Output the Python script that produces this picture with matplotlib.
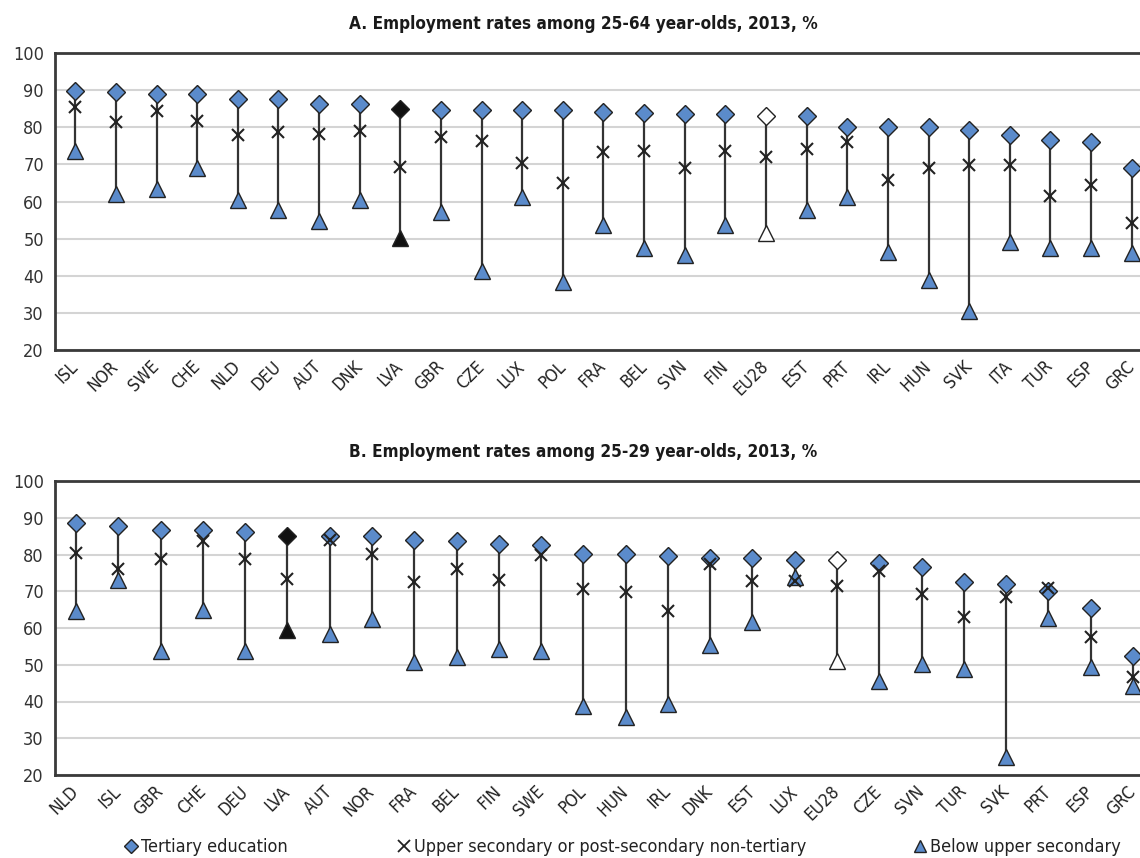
import matplotlib.pyplot as plt
from matplotlib.lines import Line2D

# Panel A: 25-64 year-olds
countries_a = ['ISL', 'NOR', 'SWE', 'CHE', 'NLD', 'DEU', 'AUT', 'DNK', 'LVA', 'GBR', 'CZE', 'LUX', 'POL',
               'FRA', 'BEL', 'SVN', 'FIN', 'EU28', 'EST', 'PRT', 'IRL', 'HUN', 'SVK', 'ITA', 'TUR', 'ESP', 'GRC']
tertiary_a = [89.8, 89.5, 89.0, 89.0, 87.7, 87.6, 86.3, 86.2, 84.9, 84.7, 84.7, 84.7, 84.7,
              84.1, 83.8, 83.6, 83.6, 83.1, 82.9, 80.0, 80.0, 80.0, 79.3, 77.8, 76.7, 76.1, 68.9]
upper_a = [85.5, 81.5, 84.3, 81.8, 78.0, 78.6, 78.2, 78.9, 69.4, 77.5, 76.2, 70.3, 64.9,
           73.2, 73.5, 69.0, 73.5, 72.1, 74.1, 76.0, 65.8, 69.0, 69.7, 69.7, 61.4, 64.4, 54.1]
below_a = [73.6, 61.9, 63.3, 69.0, 60.4, 57.6, 54.8, 60.4, 50.3, 57.1, 41.4, 61.3, 38.2,
           53.7, 47.6, 45.6, 53.7, 51.5, 57.8, 61.3, 46.5, 38.9, 30.5, 49.2, 47.5, 47.5, 46.0]

# Panel B: 25-29 year-olds
countries_b = ['NLD', 'ISL', 'GBR', 'CHE', 'DEU', 'LVA', 'AUT', 'NOR', 'FRA', 'BEL', 'FIN', 'SWE', 'POL',
               'HUN', 'IRL', 'DNK', 'EST', 'LUX', 'EU28', 'CZE', 'SVN', 'TUR', 'SVK', 'PRT', 'ESP', 'GRC']
tertiary_b = [88.7, 87.8, 86.8, 86.6, 86.2, 84.9, 84.9, 84.9, 83.9, 83.7, 82.8, 82.5, 80.1,
              80.1, 79.6, 79.1, 79.0, 78.5, 78.5, 77.6, 76.6, 72.5, 71.9, 70.2, 65.5, 52.3]
upper_b = [80.5, 76.0, 78.7, 83.7, 78.9, 73.3, 83.9, 80.2, 72.5, 76.0, 73.0, 79.8, 70.5,
           69.8, 64.7, 77.3, 72.8, 72.8, 71.4, 75.5, 69.2, 63.0, 68.3, 70.9, 57.6, 46.7]
below_b = [64.5, 73.0, 53.8, 64.8, 53.8, 59.4, 58.3, 62.4, 50.8, 52.2, 54.4, 53.8, 38.8,
           35.9, 39.3, 55.3, 61.5, 73.9, 50.9, 45.6, 50.2, 48.8, 24.8, 62.7, 49.3, 44.2]

titles = ['A. Employment rates among 25-64 year-olds, 2013, %',
          'B. Employment rates among 25-29 year-olds, 2013, %']
legend_labels = ['Tertiary education', 'Upper secondary or post-secondary non-tertiary',
                 'Below upper secondary']

plt.rcParams['font.family'] = ['DejaVu Sans']
plt.rcParams['font.stretch'] = 'condensed'

BLUE = '#5B8BCB'
EDGE = '#222222'
SPINE = '#3a3a3a'


def face(country):
    if country == 'LVA':
        return '#111111'
    if country == 'EU28':
        return 'white'
    return BLUE


def draw_panel(ax, countries, tert, upp, below):
    x = list(range(len(countries)))
    lo = [min(a, b, c) for a, b, c in zip(tert, upp, below)]
    hi = [max(a, b, c) for a, b, c in zip(tert, upp, below)]
    ax.vlines(x, lo, hi, color='#333333', linewidth=1.6, zorder=2)
    for i, c in enumerate(countries):
        fc = face(c)
        ax.plot(i, below[i], marker='^', markersize=11, markerfacecolor=fc,
                markeredgecolor=EDGE, markeredgewidth=1.0, zorder=3)
        ax.plot(i, tert[i], marker='D', markersize=9.5, markerfacecolor=fc,
                markeredgecolor=EDGE, markeredgewidth=1.0, zorder=4)
        ax.plot(i, upp[i], marker='x', markersize=9, color='#222222',
                markeredgewidth=1.5, zorder=5)
    ax.set_xlim(-0.5, len(countries) - 0.5)
    ax.set_ylim(20, 100)
    ax.set_yticks(range(20, 101, 10))
    ax.set_xticks(x)
    ax.set_xticklabels(countries, rotation=45, ha='right', va='center',
                       rotation_mode='anchor', fontsize=12.5, color='#222222')
    ax.tick_params(axis='both', length=0)
    ax.tick_params(axis='x', pad=10)
    ax.tick_params(axis='y', pad=8, labelsize=13, labelcolor='#333333')
    ax.grid(axis='y', color='#d4d4d4', linewidth=1.5, zorder=0)
    ax.set_axisbelow(True)
    for side in ['top', 'bottom', 'left']:
        ax.spines[side].set_color(SPINE)
        ax.spines[side].set_linewidth(2)
    ax.spines['right'].set_visible(False)


fig = plt.figure(figsize=(11.4, 8.58), dpi=100)
W, H = 1140, 858
ax1 = fig.add_axes([55 / W, 1 - 350 / H, (1152 - 55) / W, 297 / H])
ax2 = fig.add_axes([55 / W, 1 - 775 / H, (1154 - 55) / W, 294 / H])

draw_panel(ax1, countries_a, tertiary_a, upper_a, below_a)
draw_panel(ax2, countries_b, tertiary_b, upper_b, below_b)

fig.text(583 / W, 1 - 24 / H, titles[0], ha='center', va='center', fontsize=12.3,
         fontweight='bold', color='#1a1a1a')
fig.text(583 / W, 1 - 452 / H, titles[1], ha='center', va='center', fontsize=12.3,
         fontweight='bold', color='#1a1a1a')

handles = [
    Line2D([], [], linestyle='none', marker='D', markersize=7, markerfacecolor=BLUE, markeredgecolor=EDGE),
    Line2D([], [], linestyle='none', marker='x', markersize=9, color='#222222', markeredgewidth=1.3),
    Line2D([], [], linestyle='none', marker='^', markersize=8, markerfacecolor=BLUE, markeredgecolor=EDGE),
]
for h, lab, xl in zip(handles, legend_labels, [126, 399, 915]):
    fig.legend([h], [lab], loc='center left', bbox_to_anchor=(xl / W, 1 - 847 / H),
               frameon=False, fontsize=13, handlelength=0.6, handletextpad=0.25,
               borderaxespad=0, borderpad=0, labelcolor='#222222')

fig.savefig('out.png', dpi=100)
